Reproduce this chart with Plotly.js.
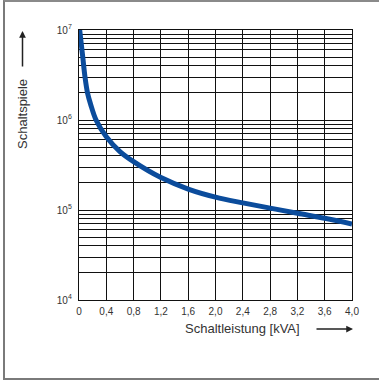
<!DOCTYPE html>
<html><head><meta charset="utf-8">
<script src="https://cdn.plot.ly/plotly-3.0.1.min.js"></script>
<style>
html,body{margin:0;padding:0;background:#fff;}
#wrap{position:relative;width:379px;height:380px;}
#chart{width:379px;height:380px;}
#frame{position:absolute;left:3px;top:0;width:380px;height:380px;border-left:2px solid #7a7a7a;border-top:2px solid #8a8a8a;border-bottom:2px solid #7a7a7a;pointer-events:none;box-sizing:border-box;}
</style></head>
<body><div id="wrap"><div id="chart"></div><div id="frame"></div></div>
<script>
// data
const power = [0.01, 0.055, 0.088, 0.125, 0.17, 0.25, 0.4, 0.6, 0.8, 1.2, 1.6, 2.0, 2.4, 2.8, 3.2, 3.6, 4.0];
const cycles = [1e7, 5e6, 3e6, 2e6, 1.5e6, 1e6, 6.5e5, 4.45e5, 3.44e5, 2.29e5, 1.71e5, 1.39e5, 1.2e5, 1.05e5, 9.2e4, 8.1e4, 7.0e4];
const xTickVals = [0, 0.4, 0.8, 1.2, 1.6, 2.0, 2.4, 2.8, 3.2, 3.6, 4.0];
const xTickText = ["0", "0,4", "0,8", "1,2", "1,6", "2,0", "2,4", "2,8", "3,2", "3,6", "4,0"];
const decades = [4, 5, 6, 7];

const yTickVals = [], yTickText = [];
decades.forEach((d, i) => {
  yTickVals.push(Math.pow(10, d)); yTickText.push("10<sup>" + d + "</sup>");
  if (i < decades.length - 1) for (let m = 2; m <= 9; m++) { yTickVals.push(m * Math.pow(10, d)); yTickText.push(""); }
});

const L = 79, R = 352, T = 30, B = 300;
const px = x => (x - L) / (R - L);
const py = y => (B - y) / (B - T);

const trace = {
  x: power, y: cycles, type: 'scatter', mode: 'lines',
  line: {color: '#0b4c9c', width: 5, shape: 'spline', smoothing: 1},
  hoverinfo: 'skip'
};

const layout = {
  width: 379, height: 380,
  margin: {l: L, r: 379 - R, t: T, b: 380 - B, pad: 0},
  paper_bgcolor: '#fff', plot_bgcolor: '#fff',
  showlegend: false,
  font: {family: 'Liberation Sans, Arial, sans-serif', color: '#333', size: 10},
  xaxis: {
    range: [0, 4], tickvals: xTickVals, ticktext: xTickText,
    showgrid: true, gridcolor: '#111', gridwidth: 1,
    zeroline: false, showline: true, linecolor: '#111', linewidth: 1.2, mirror: true,
    ticks: '', ticklen: 0, ticklabelstandoff: 2, tickfont: {size: 10, color: '#333'}
  },
  yaxis: {
    type: 'log', range: [4, 7], tickvals: yTickVals, ticktext: yTickText,
    showgrid: true, gridcolor: '#111', gridwidth: 1,
    zeroline: false, showline: true, linecolor: '#111', linewidth: 1.2, mirror: true,
    ticks: '', ticklen: 0, ticklabelstandoff: 4, tickfont: {size: 10, color: '#333'}
  },
  annotations: [
    {xref: 'paper', yref: 'paper', x: px(22), y: py(114), text: 'Schaltspiele', textangle: -90,
     showarrow: false, font: {size: 13, color: '#333'}, xanchor: 'center', yanchor: 'middle'},
    {xref: 'paper', yref: 'paper', x: px(22.5), y: py(31), ax: 0, ay: 37, text: '',
     showarrow: true, arrowhead: 2, arrowsize: 0.9, arrowwidth: 1.5, arrowcolor: '#222'},
    {xref: 'paper', yref: 'paper', x: px(242), y: py(328), text: 'Schaltleistung [kVA]',
     showarrow: false, font: {size: 13, color: '#333'}, xanchor: 'center', yanchor: 'middle'},
    {xref: 'paper', yref: 'paper', x: px(353), y: py(329), ax: -38, ay: 0, text: '',
     showarrow: true, arrowhead: 2, arrowsize: 0.9, arrowwidth: 1.5, arrowcolor: '#222'}
  ]
};

Plotly.newPlot('chart', [trace], layout, {displayModeBar: false, staticPlot: true});
</script></body></html>
